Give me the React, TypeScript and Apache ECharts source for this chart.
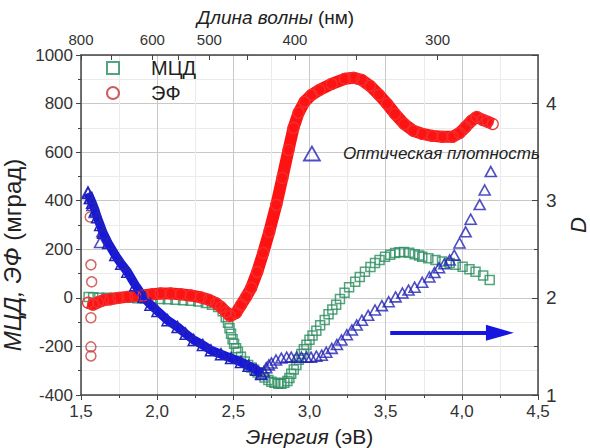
import React, { useEffect, useRef } from "react";
import * as echarts from "echarts";

const FONT = '"Liberation Sans", Arial, Helvetica, sans-serif';

// МЦД (magnetic circular dichroism), mdeg
const mcdEnergy = [
  1.55, 1.58, 1.62, 1.67, 1.72, 1.77, 1.82, 1.87, 1.92, 1.97, 2.02, 2.07, 2.12, 2.17, 2.22, 2.27, 2.32, 2.36, 2.4, 2.43,
  2.45, 2.465, 2.475, 2.485, 2.495, 2.505, 2.518, 2.53, 2.55, 2.575, 2.597, 2.617, 2.637, 2.66, 2.683, 2.705, 2.73, 2.75,
  2.77, 2.795, 2.815, 2.835, 2.855, 2.868, 2.88, 2.897, 2.914, 2.93, 2.947, 2.963, 2.98, 3.0, 3.02, 3.045, 3.07, 3.1,
  3.125, 3.15, 3.175, 3.2, 3.23, 3.26, 3.3, 3.33, 3.364, 3.4, 3.43, 3.46, 3.496, 3.53, 3.562, 3.59, 3.62, 3.655, 3.69,
  3.72, 3.74, 3.78, 3.827, 3.87, 3.92, 3.96, 4.005, 4.05, 4.09, 4.14, 4.183,
];
const mcdValue = [
  4, 2, 0, 0, 0, 0, 0, -2, -3, -4, -5, -6, -8, -10, -12, -15, -21, -28, -38, -55,
  -80, -103, -125, -148, -170, -189, -208, -222, -243, -262, -276, -287, -296, -307, -317, -328, -338, -345,
  -350, -354, -354, -350, -342, -330, -313, -295, -276, -255, -231, -212, -193, -172, -155, -135, -113, -91,
  -68, -48, -28, -5, 21, 44, 66, 86, 107, 127, 144, 156, 169, 178, 185, 188, 189, 186, 180,
  174, 169, 163, 156, 150, 144, 136, 128, 118, 107, 92, 74,
];

// ЭФ (Faraday effect), mdeg
const efEnergy = [
  1.546, 1.579, 1.612, 1.645, 1.692, 1.745, 1.804, 1.857, 1.91, 1.969, 2.022, 2.088, 2.154, 2.22, 2.287, 2.339, 2.386,
  2.419, 2.452, 2.478, 2.518, 2.551, 2.584, 2.617, 2.657, 2.696, 2.736, 2.782, 2.822, 2.862, 2.895, 2.928, 2.967, 3.014,
  3.066, 3.146, 3.232, 3.291, 3.344, 3.397, 3.456, 3.509, 3.562, 3.622, 3.681, 3.741, 3.807, 3.873, 3.939, 3.985,
  4.025, 4.064, 4.097, 4.137, 4.17, 4.203,
];
const efValue = [
  -20, -28, -18, -10, -6, 0, 4, 8, 10, 15, 18, 18, 15, 10, 2, -8, -22,
  -38, -58, -75, -62, -29, 4, 41, 107, 185, 272, 383, 494, 609, 700, 762, 807, 836,
  856, 881, 902, 906, 897, 873, 836, 799, 757, 716, 688, 675, 667, 663, 663, 679,
  704, 729, 745, 733, 725, 716,
];
// isolated ЭФ points at the long-wavelength edge
const efStrayEnergy = [1.56, 1.565, 1.57, 1.565, 1.565, 1.565];
const efStrayValue = [333, 136, 66, -82, -202, -239];

// Optical density D (right axis): dense low-energy part
const odBandEnergy = [
  1.546, 1.559, 1.573, 1.593, 1.606, 1.626, 1.645, 1.678, 1.725, 1.764, 1.804, 1.857, 1.91, 1.956, 2.002, 2.068,
  2.134, 2.187, 2.24, 2.3, 2.353, 2.419, 2.485, 2.55, 2.6, 2.65, 2.683,
];
const odBandValue = [
  3.08, 3.03, 2.98, 2.9, 2.83, 2.75, 2.67, 2.565, 2.44, 2.35, 2.27, 2.13, 2.01, 1.93, 1.865, 1.77,
  1.7, 1.63, 1.566, 1.515, 1.46, 1.42, 1.38, 1.34, 1.3, 1.26, 1.216,
];
// Optical density D: separate points
const odEnergy = [
  1.546, 1.56, 1.575, 1.59, 1.625, 1.64,
  2.683, 2.7, 2.716, 2.733, 2.75, 2.78, 2.815, 2.85, 2.88, 2.915, 2.947, 2.98, 3.01, 3.045, 3.08, 3.11, 3.146, 3.18,
  3.21, 3.245, 3.278, 3.31, 3.344, 3.385, 3.43, 3.475, 3.52, 3.565, 3.61, 3.65, 3.69, 3.74, 3.787, 3.82, 3.85,
  3.885, 3.92, 3.95, 3.985, 4.025, 4.058, 4.117, 4.15, 4.19,
];
const odValue = [
  3.09, 3.02, 2.95, 2.88, 2.57, 2.68,
  1.216, 1.24, 1.28, 1.31, 1.33, 1.36, 1.38, 1.39, 1.39, 1.39, 1.39, 1.39, 1.39, 1.4, 1.41, 1.44, 1.48, 1.52,
  1.566, 1.62, 1.67, 1.72, 1.77, 1.82, 1.875, 1.92, 1.96, 2.01, 2.05, 2.08, 2.11, 2.16, 2.215, 2.26, 2.31,
  2.35, 2.39, 2.44, 2.565, 2.68, 2.81, 2.96, 3.11, 3.3,
];

// Top (wavelength) axis
const wavelengthTicks = [800, 700, 600, 550, 500, 450, 400, 350, 300];
const wavelengthLabels = [800, 600, 500, 400, 300];

// Arrow pointing to the right-hand axis (energy, D)
const arrowFrom = [3.53, 1.64];
const arrowTo = [4.25, 1.64];

const GREEN = "#2a8c5f";
const RED = "#ff1212";
const BLUE = "#1616e0";
const BLUE_DARK = "#2323b4";

// wavelength (nm) -> position on the shared energy scale of the top axis
const nmToAxis = (nm: number) => 1.5 + (1 / nm - 1 / 800) * 1123.6;

const pairs = (xs: number[], ys: number[]) => xs.map((x, i) => [x, ys[i]]);

export default function App() {
  const ref = useRef<HTMLDivElement>(null);

  useEffect(() => {
    if (!ref.current) return;
    const chart = echarts.init(ref.current, undefined, { renderer: "svg" });

    const labelPos = wavelengthLabels.map(nmToAxis);
    const tickPos = wavelengthTicks.map(nmToAxis);

    chart.setOption({
      animation: false,
      backgroundColor: "#ffffff",
      textStyle: { fontFamily: FONT },
      grid: { left: 81, right: 52, top: 55, bottom: 53, containLabel: false, outerBoundsMode: "none" },
      legend: [
        {
          orient: "vertical",
          left: 101,
          top: 52,
          itemWidth: 12,
          itemHeight: 12,
          itemGap: 3,
          selectedMode: false,
          textStyle: { fontFamily: FONT, fontSize: 20, color: "#222", lineHeight: 22, padding: [0, 0, 0, 27] },
          data: [
            { name: "МЦД", icon: "rect", itemStyle: { color: "rgba(0,0,0,0)", borderColor: GREEN, borderWidth: 2 } },
            { name: "ЭФ", icon: "circle", itemStyle: { color: "rgba(0,0,0,0)", borderColor: "#c43434", borderWidth: 2 } },
          ],
        },
        {
          orient: "horizontal",
          left: 298,
          top: 140,
          itemWidth: 16,
          itemHeight: 14,
          selectedMode: false,
          textStyle: { fontFamily: FONT, fontSize: 17, fontStyle: "italic", color: "#222", padding: [0, 0, 0, 18] },
          data: [
            {
              name: "Оптическая плотность",
              icon: "triangle",
              itemStyle: { color: "rgba(0,0,0,0)", borderColor: BLUE_DARK, borderWidth: 1.8 },
            },
          ],
        },
      ],
      xAxis: [
        {
          type: "value",
          position: "bottom",
          min: 1.5,
          max: 4.5,
          interval: 0.5,
          minorTick: { show: true, splitNumber: 2, length: 3, lineStyle: { color: "#444" } },
          axisTick: { show: true, inside: false, length: 5, lineStyle: { color: "#444" } },
          axisLine: { show: true, onZero: false, lineStyle: { color: "#444", width: 1.5 } },
          axisLabel: {
            margin: 8,
            fontSize: 17,
            color: "#333",
            fontFamily: FONT,
            formatter: (v: number) => v.toFixed(1).replace(".", ","),
          },
          splitLine: { show: true, lineStyle: { color: "#c9c9c9", width: 1 } },
          minorSplitLine: { show: true, lineStyle: { color: "#ebebeb", width: 1 } },
          name: "{i|Энергия} (эВ)",
          nameLocation: "middle",
          nameGap: 31,
          nameTextStyle: {
            fontSize: 21,
            color: "#222",
            fontFamily: FONT,
            rich: { i: { fontSize: 21, fontStyle: "italic", color: "#222", fontFamily: FONT } },
          },
        },
        {
          type: "value",
          position: "top",
          min: 1.5,
          max: 4.5,
          axisLine: { show: true, onZero: false, lineStyle: { color: "#444", width: 1.5 } },
          axisTick: { show: true, inside: true, length: 5, customValues: tickPos, lineStyle: { color: "#444" } },
          axisLabel: {
            margin: 8,
            fontSize: 15,
            color: "#333",
            fontFamily: FONT,
            customValues: labelPos,
            formatter: (v: number) => {
              let best = 0;
              labelPos.forEach((p, i) => {
                if (Math.abs(p - v) < Math.abs(labelPos[best] - v)) best = i;
              });
              return String(wavelengthLabels[best]);
            },
          },
          splitLine: { show: false },
          name: "{i|Длина волны} (нм)",
          nameLocation: "middle",
          nameGap: 24,
          nameTextStyle: {
            fontSize: 19,
            color: "#222",
            fontFamily: FONT,
            padding: [0, 68, 0, 0],
            rich: { i: { fontSize: 19, fontStyle: "italic", color: "#222", fontFamily: FONT } },
          },
        },
      ],
      yAxis: [
        {
          type: "value",
          position: "left",
          min: -400,
          max: 1000,
          interval: 200,
          minorTick: { show: true, splitNumber: 2, length: 3, lineStyle: { color: "#444" } },
          axisTick: { show: true, inside: false, length: 5, lineStyle: { color: "#444" } },
          axisLine: { show: true, onZero: false, lineStyle: { color: "#444", width: 1.5 } },
          axisLabel: { margin: 8, fontSize: 17, color: "#333", fontFamily: FONT, formatter: (v: number) => String(v) },
          splitLine: { show: true, lineStyle: { color: "#c9c9c9", width: 1 } },
          minorSplitLine: { show: true, lineStyle: { color: "#ebebeb", width: 1 } },
          name: "{i|МЦД, ЭФ} (мград)",
          nameLocation: "middle",
          nameGap: 46,
          nameRotate: 90,
          nameTextStyle: {
            fontSize: 24,
            color: "#222",
            fontFamily: FONT,
            padding: [0, 60, 0, 0],
            rich: { i: { fontSize: 24, fontStyle: "italic", color: "#222", fontFamily: FONT } },
          },
        },
        {
          type: "value",
          position: "right",
          min: 1,
          max: 4.5,
          interval: 1,
          minorTick: { show: true, splitNumber: 2, length: 4, lineStyle: { color: "#444" } },
          axisTick: { show: true, inside: true, length: 6, lineStyle: { color: "#444" } },
          axisLine: { show: true, onZero: false, lineStyle: { color: "#444", width: 1.5 } },
          axisLabel: {
            margin: 8,
            fontSize: 19,
            color: "#333",
            fontFamily: FONT,
            formatter: (v: number) => (Number.isInteger(v) ? String(v) : ""),
          },
          splitLine: { show: false },
          name: "D",
          nameLocation: "middle",
          nameGap: 28,
          nameRotate: 90,
          nameTextStyle: { fontSize: 22, fontStyle: "italic", color: "#222", fontFamily: FONT },
        },
      ],
      series: [
        {
          name: "МЦД",
          type: "scatter",
          silent: true,
          xAxisIndex: 0,
          yAxisIndex: 0,
          symbol: "rect",
          symbolSize: 9,
          itemStyle: { color: "rgba(0,0,0,0)", borderColor: GREEN, borderWidth: 1.5 },
          data: pairs(mcdEnergy, mcdValue),
        },
        {
          name: "ЭФ",
          type: "scatter",
          silent: true,
          xAxisIndex: 0,
          yAxisIndex: 0,
          symbol: "circle",
          symbolSize: 10,
          itemStyle: { color: "rgba(0,0,0,0)", borderColor: "#c84040", borderWidth: 1.5 },
          data: pairs(efStrayEnergy, efStrayValue),
        },
        {
          name: "ЭФ, основная кривая",
          type: "line",
          silent: true,
          xAxisIndex: 0,
          yAxisIndex: 0,
          symbol: "circle",
          symbolSize: 11,
          showAllSymbol: true,
          lineStyle: { color: RED, width: 12 },
          itemStyle: { color: "rgba(0,0,0,0)", borderColor: "#f03030", borderWidth: 1.2 },
          data: pairs(efEnergy, efValue),
        },
        {
          name: "Оптическая плотность",
          type: "scatter",
          silent: true,
          xAxisIndex: 0,
          yAxisIndex: 1,
          symbol: "triangle",
          symbolSize: [11, 10],
          itemStyle: { color: "rgba(0,0,0,0)", borderColor: BLUE_DARK, borderWidth: 1.6 },
          data: pairs(odEnergy, odValue),
          markLine: {
            silent: true,
            symbol: ["none", "triangle"],
            symbolSize: [16, 28],
            label: { show: false },
            lineStyle: { color: BLUE, width: 4, type: "solid" },
            itemStyle: { color: BLUE },
            data: [[{ coord: arrowFrom }, { coord: arrowTo }]],
          },
        },
        {
          name: "Оптическая плотность, плотная часть",
          type: "line",
          silent: true,
          xAxisIndex: 0,
          yAxisIndex: 1,
          symbol: "triangle",
          symbolSize: 11,
          showAllSymbol: true,
          lineStyle: { color: BLUE, width: 9 },
          itemStyle: { color: "rgba(0,0,0,0)", borderColor: BLUE_DARK, borderWidth: 1.5 },
          data: pairs(odBandEnergy, odBandValue),
        },
      ],
    });

    return () => chart.dispose();
  }, []);

  return (
    <div
      ref={ref}
      style={{ position: "fixed", left: 0, top: 0, width: 590, height: 448, background: "#fff" }}
    />
  );
}
